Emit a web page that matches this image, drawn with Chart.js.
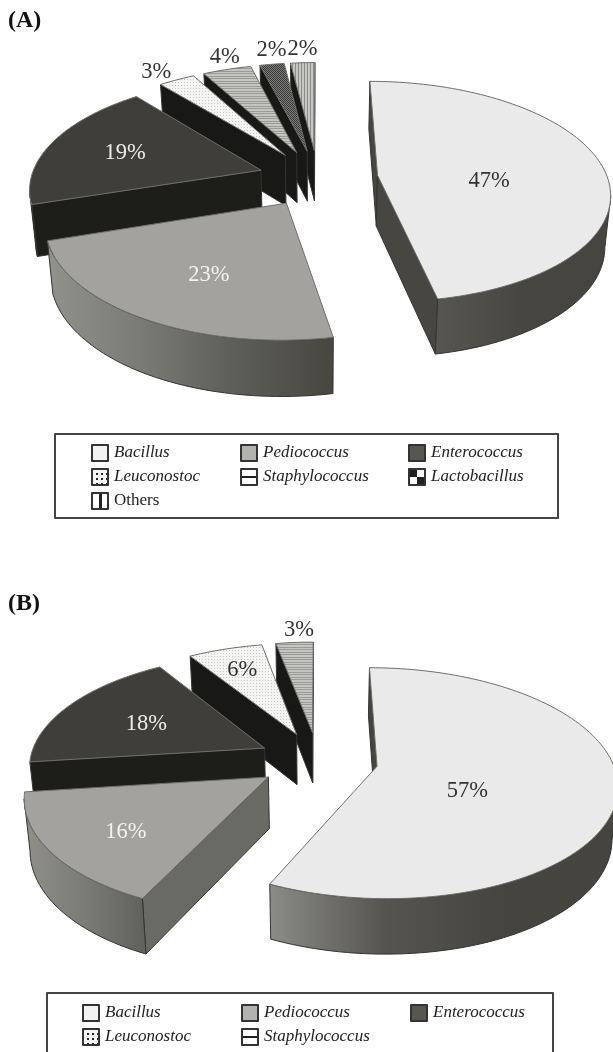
<!DOCTYPE html>
<html>
<head>
<meta charset="utf-8">
<title>Bacterial genera</title>
<script src="https://cdn.jsdelivr.net/npm/chart.js@4"></script>
<style>
    html, body { margin: 0; background: #fff; overflow: hidden; }
    canvas { position: absolute; left: 0; }
    #chartA { top: 0; }
    #chartB { top: 526px; }
</style>
</head>
<body>
<canvas id="chartA" width="613" height="526"></canvas>
<canvas id="chartB" width="613" height="526"></canvas>
<script>
// Percentages per genus for each panel
const labelsA = ['Bacillus', 'Pediococcus', 'Enterococcus', 'Leuconostoc', 'Staphylococcus', 'Lactobacillus', 'Others'];
const valuesA = [47, 23, 19, 3, 4, 2, 2];
const labelsB = ['Bacillus', 'Pediococcus', 'Enterococcus', 'Leuconostoc', 'Staphylococcus'];
const valuesB = [57, 16, 18, 6, 3];

const SERIF = '"Liberation Serif", serif';

// Small repeating tiles for the textured slices
function tile(w, h, paint) {
    const c = document.createElement('canvas');
    c.width = w;
    c.height = h;
    paint(c.getContext('2d'));
    return c.getContext('2d').createPattern(c, 'repeat');
}

const dotted = tile(3, 3, g => {
    g.fillStyle = '#f4f4f3'; g.fillRect(0, 0, 3, 3);
    g.fillStyle = '#c6c6c4'; g.fillRect(1, 1, 1, 1);
});
const striped = tile(2, 5, g => {
    g.fillStyle = '#c4c4c0'; g.fillRect(0, 0, 2, 5);
    g.fillStyle = '#9a9a96'; g.fillRect(0, 1, 2, 1); g.fillRect(0, 3, 2, 1);
});
const dithered = tile(2, 2, g => {
    g.fillStyle = '#7c7c7a'; g.fillRect(0, 0, 2, 2);
    g.fillStyle = '#3a3a38'; g.fillRect(0, 0, 1, 1); g.fillRect(1, 1, 1, 1);
});
const ribbed = tile(3, 2, g => {
    g.fillStyle = '#c6c6c2'; g.fillRect(0, 0, 3, 2);
    g.fillStyle = '#8c8c88'; g.fillRect(1, 0, 1, 2);
});

const faceColors = ['#ebeaea', '#a3a29e', '#3f3e3b', dotted, striped, dithered, ribbed];

// Draws the exploded slices in a tilted perspective, using the arcs the pie controller laid out
const tiltedPie = {
    id: 'tiltedPie',
    beforeDatasetsDraw(chart, args, opts) {
        const ctx = chart.ctx;
        const arcs = chart.getDatasetMeta(0).data;

        const project = (u, v) => {
            const p = 1 / (1 - opts.perspective * v);
            return { x: opts.cx + u * p, y: opts.cy + opts.squash * v * p, p };
        };
        const lower = pt => ({
            x: opts.cx + (pt.x - opts.cx) * 0.98,
            y: pt.y + opts.depth * Math.sqrt(pt.p)
        });
        const poly = pts => {
            ctx.beginPath();
            pts.forEach((q, i) => i ? ctx.lineTo(q.x, q.y) : ctx.moveTo(q.x, q.y));
            ctx.closePath();
        };

        // back slices first, so the nearer ones cover them
        for (let i = arcs.length - 1; i >= 0; i--) {
            const { startAngle, endAngle } = arcs[i].getProps(['startAngle', 'endAngle'], true);
            const mid = (startAngle + endAngle) / 2;
            const ox = opts.explode * Math.cos(mid);
            const oy = opts.explode * Math.sin(mid);
            const at = (a, r) => project(ox + r * Math.cos(a), oy + r * Math.sin(a));

            const rim = [];
            const steps = Math.max(2, Math.ceil((endAngle - startAngle) / 0.03));
            for (let s = 0; s <= steps; s++) {
                rim.push(at(startAngle + (endAngle - startAngle) * s / steps, opts.radius));
            }
            const apex = at(0, 0);

            ctx.strokeStyle = opts.edge;
            ctx.lineWidth = 1;
            ctx.lineJoin = 'round';

            // the flat cut faces, only where they turn towards the viewer
            [[apex, rim[0]], [rim[steps], apex]].forEach(([a, b]) => {
                if (b.x < a.x) {
                    poly([a, b, lower(b), lower(a)]);
                    ctx.fillStyle = opts.cutColors[i];
                    ctx.fill();
                    ctx.stroke();
                }
            });

            // the curved side
            let run = [];
            for (let s = 0; s < steps; s++) {
                if (rim[s + 1].x < rim[s].x) {
                    if (!run.length) run.push(rim[s]);
                    run.push(rim[s + 1]);
                }
            }
            if (run.length > 1) {
                const minX = run[run.length - 1].x;
                const maxX = run[0].x;
                const grad = ctx.createLinearGradient(minX, 0, maxX, 0);
                const stops = opts.sideStops[i];
                stops.forEach((c, n) => grad.addColorStop(n / (stops.length - 1), c));
                poly(run.concat(run.slice().reverse().map(lower)));
                ctx.fillStyle = grad;
                ctx.fill();
                ctx.stroke();
            }

            // top face
            poly([apex].concat(rim));
            ctx.fillStyle = arcs[i].options.backgroundColor;
            ctx.fill();
            ctx.strokeStyle = opts.topEdge;
            ctx.stroke();
        }

        // percentage labels
        ctx.font = '22.5px ' + SERIF;
        ctx.textAlign = 'center';
        ctx.textBaseline = 'middle';
        arcs.forEach((arc, i) => {
            const { startAngle, endAngle } = arc.getProps(['startAngle', 'endAngle'], true);
            const mid = (startAngle + endAngle) / 2;
            const r = opts.explode + opts.radius * opts.labelAt[i];
            const pt = project(r * Math.cos(mid), r * Math.sin(mid));
            const nudge = opts.labelNudge[i];
            ctx.fillStyle = opts.labelColors[i];
            ctx.fillText(chart.data.datasets[0].data[i] + '%', pt.x + nudge[0], pt.y + nudge[1]);
        });
        return false;
    },
    afterDraw(chart, args, opts) {
        const ctx = chart.ctx;
        ctx.save();

        ctx.fillStyle = '#111';
        ctx.font = 'bold 24px ' + SERIF;
        ctx.textAlign = 'left';
        ctx.textBaseline = 'middle';
        ctx.fillText(opts.panel, 8, opts.panelY);

        const box = opts.box;
        ctx.strokeStyle = '#444';
        ctx.lineWidth = 2;
        ctx.strokeRect(box.x, box.y, box.w, box.h);

        chart.data.labels.forEach((name, i) => {
            const col = i % 3;
            const row = Math.floor(i / 3);
            const x = opts.columns[col];
            const y = box.y + opts.firstRow + row * opts.rowGap;
            drawSwatch(ctx, i, x, y - 8);
            ctx.font = (name === 'Others' ? '' : 'italic ') + '17px ' + SERIF;
            ctx.fillStyle = '#222';
            ctx.fillText(name, x + 22, y);
        });
        ctx.restore();
    }
};

// Legend keys, 17px squares with a heavy outline
function drawSwatch(ctx, i, x, y) {
    const s = 16;
    ctx.fillStyle = ['#f2f2f2', '#b2b2ae', '#57574f', '#f4f4f4', '#fff', '#fff', '#fff'][i];
    ctx.fillRect(x, y, s, s);
    ctx.fillStyle = '#222';
    if (i === 3) {
        for (let a = 5; a < s; a += 5) {
            for (let b = 5; b < s; b += 5) ctx.fillRect(x + a - 1, y + b - 1, 2, 2);
        }
    } else if (i === 4) {
        ctx.fillRect(x, y + 7, s, 2);
    } else if (i === 5) {
        ctx.fillRect(x, y, s / 2, s / 2);
        ctx.fillRect(x + s / 2, y + s / 2, s / 2, s / 2);
    } else if (i === 6) {
        ctx.fillRect(x + s / 2 - 1, y, 3, s);
    }
    ctx.strokeStyle = '#333';
    ctx.lineWidth = 2;
    ctx.strokeRect(x, y, s, s);
}

function createPie(id, labels, values, pieOptions) {
    return new Chart(document.getElementById(id), {
        type: 'pie',
        data: {
            labels: labels,
            datasets: [{ data: values, backgroundColor: faceColors.slice(0, labels.length) }]
        },
        options: {
            responsive: false,
            animation: false,
            events: [],
            rotation: 0,
            plugins: {
                legend: { display: false },
                tooltip: { enabled: false },
                tiltedPie: pieOptions
            }
        },
        plugins: [tiltedPie]
    });
}

const blackCut = '#181816';

createPie('chartA', labelsA, valuesA, {
    cx: 318, cy: 178, radius: 230, squash: 0.472, perspective: 0.00064, depth: 51, explode: 60,
    edge: '#33332f', topEdge: '#6e6e6a',
    cutColors: ['#474640', '#6a6a65', '#1d1d1a', blackCut, blackCut, blackCut, blackCut],
    sideStops: [
        ['#56554f', '#474640', '#45443f'],
        ['#92928c', '#7a7a74', '#5d5d58', '#47463f'],
        ['#1d1d1a', '#1d1d1a'],
        [blackCut, blackCut], [blackCut, blackCut], [blackCut, blackCut], [blackCut, blackCut]
    ],
    labelAt: [0.49, 0.6, 0.64, 1.14, 1.1, 1.12, 1.12],
    labelNudge: [[1, 11], [4, 7], [-1, 1], [-7, 2], [4, -5], [3, -5], [1, -5]],
    labelColors: ['#333', '#f2f2f2', '#ececec', '#333', '#333', '#333', '#333'],
    panel: '(A)', panelY: 21,
    box: { x: 55, y: 434, w: 503, h: 84 },
    columns: [92, 241, 409], firstRow: 19, rowGap: 24
});

createPie('chartB', labelsB, valuesB, {
    cx: 318, cy: 234, radius: 235, squash: 0.473, perspective: 0.00062, depth: 51, explode: 60,
    edge: '#33332f', topEdge: '#6e6e6a',
    cutColors: ['#45443f', '#6a6a65', '#1d1d1a', blackCut, blackCut],
    sideStops: [
        ['#8b8b87', '#55544e', '#45443f', '#45443f'],
        ['#909089', '#7c7c77', '#62625d'],
        ['#1d1d1a', '#1d1d1a'],
        [blackCut, blackCut], [blackCut, blackCut]
    ],
    labelAt: [0.47, 0.58, 0.62, 0.8, 1.1],
    labelNudge: [[-21, 13], [-21, 13], [5, 3], [4, 6], [6, -5]],
    labelColors: ['#333', '#f2f2f2', '#ececec', '#333', '#333'],
    panel: '(B)', panelY: 78,
    box: { x: 47, y: 467, w: 506, h: 90 },
    columns: [83, 242, 411], firstRow: 20, rowGap: 24
});
</script>
</body>
</html>
